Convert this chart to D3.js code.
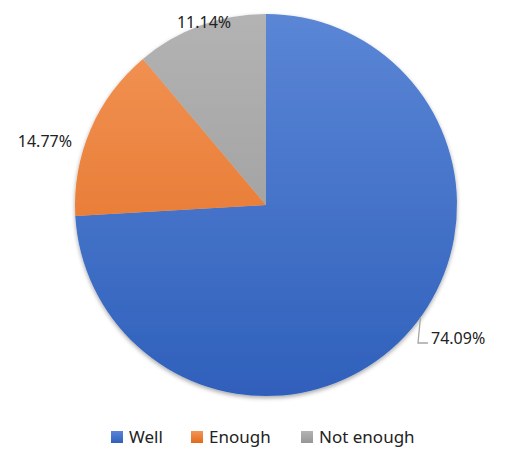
<!DOCTYPE html>
<html>
<head>
<script src="https://d3js.org/d3.v7.min.js"></script>
<style>
body { margin: 0; background: white; font-family: "Noto Sans", "Open Sans", sans-serif; }
</style>
</head>
<body>
<script>
const categories = ["Well", "Enough", "Not enough"];
const values = [74.09, 14.77, 11.14];
const labels = ["74.09%", "14.77%", "11.14%"];
const colorsTop = ["#5b86d6", "#f39558", "#b3b3b3"];
const colorsBottom = ["#2f60bb", "#e06a1b", "#959595"];

const w = 508, h = 455, cx = 266, cy = 205, r = 191;

const svg = d3.select("body").append("svg").attr("width", w).attr("height", h);
const defs = svg.append("defs");

categories.forEach(function(c, i) {
  const g = defs.append("linearGradient").attr("id", "g" + i)
    .attr("gradientUnits", "userSpaceOnUse")
    .attr("x1", 0).attr("y1", cy - r).attr("x2", 0).attr("y2", cy + r);
  g.append("stop").attr("offset", "0%").attr("stop-color", colorsTop[i]);
  g.append("stop").attr("offset", "100%").attr("stop-color", colorsBottom[i]);
});
const f = defs.append("filter").attr("id", "sh").attr("x", "-10%").attr("y", "-10%").attr("width", "120%").attr("height", "120%");
f.append("feDropShadow").attr("dx", 0).attr("dy", 2).attr("stdDeviation", 2).attr("flood-color", "#000").attr("flood-opacity", 0.35);

const pie = d3.pie().sort(null).value(d => d);
const arcs = pie(values);
const arc = d3.arc().innerRadius(0).outerRadius(r);

const g = svg.append("g").attr("transform", "translate(" + cx + "," + cy + ")");
g.append("g").attr("filter", "url(#sh)").selectAll("path").data(arcs).enter()
  .append("path")
  .attr("d", arc)
  .attr("fill", (d, i) => "url(#g" + i + ")")
  .attr("transform", "translate(" + (-cx) + "," + (-cy) + ") translate(" + cx + "," + cy + ")");

// fix gradient coords: paths are drawn in the translated group, so shift gradients
defs.selectAll("linearGradient").attr("y1", -r).attr("y2", r);

// labels
const labelPos = [[431, 338, "start"], [72, 141, "end"], [204, 22, "middle"]];
labels.forEach(function(t, i) {
  svg.append("text").attr("x", labelPos[i][0]).attr("y", labelPos[i][1] + 6)
    .attr("text-anchor", labelPos[i][2])
    .attr("font-size", 16).attr("fill", "#222").text(t);
});
// leader line for Well
const mid = (arcs[0].startAngle + arcs[0].endAngle) / 2;
const ex = cx + r * Math.sin(2.2), ey = cy - r * Math.cos(2.2);
svg.append("path")
  .attr("d", "M" + ex + "," + ey + " L418,343 L428,343")
  .attr("fill", "none").attr("stroke", "#a6a6a6").attr("stroke-width", 1.3);

// legend
const legX = [111, 191, 301];
categories.forEach(function(c, i) {
  svg.append("rect").attr("x", legX[i]).attr("y", 431).attr("width", 12).attr("height", 12)
    .attr("fill", "url(#lg" + i + ")");
  const lg = defs.append("linearGradient").attr("id", "lg" + i).attr("x1", 0).attr("y1", 0).attr("x2", 0).attr("y2", 1);
  lg.append("stop").attr("offset", "0%").attr("stop-color", colorsTop[i]);
  lg.append("stop").attr("offset", "100%").attr("stop-color", colorsBottom[i]);
  svg.append("text").attr("x", legX[i] + 18).attr("y", 443)
    .attr("font-size", 17).attr("fill", "#222").text(c);
});
</script>
</body>
</html>
